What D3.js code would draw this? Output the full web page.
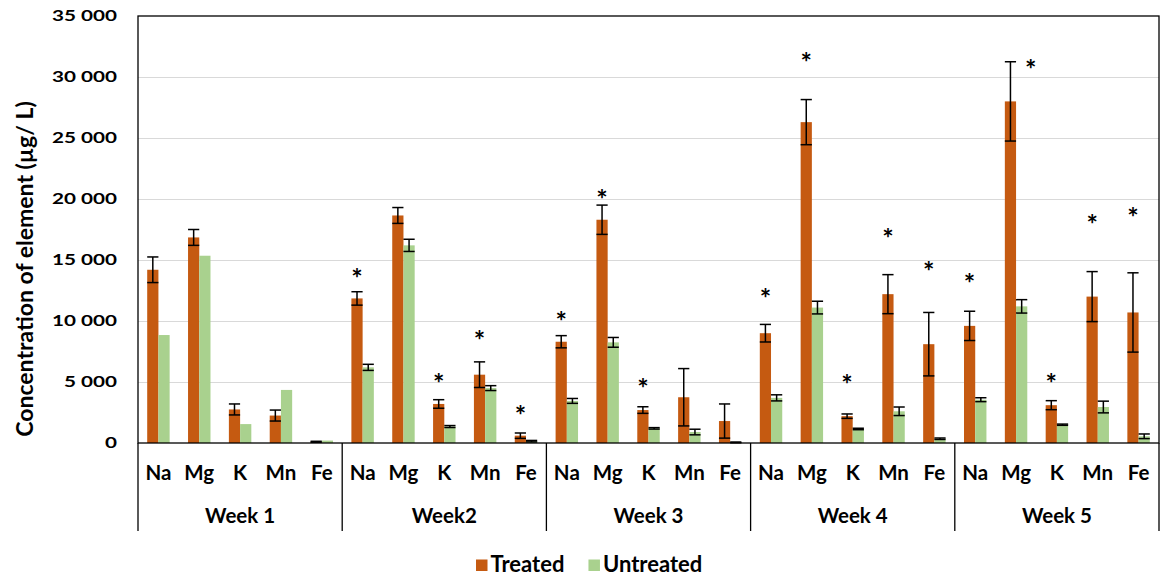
<!DOCTYPE html>
<html>
<head>
<meta charset="utf-8">
<script src="https://cdn.jsdelivr.net/npm/d3@7"></script>
<style>
  body { margin: 0; background: #fff; }
  text { font-family: Lato, "Open Sans", sans-serif; font-weight: 700; fill: #000; }
</style>
</head>
<body>
<div id="chart"></div>
<script>
// Data
const weeks = ["Week 1", "Week2", "Week 3", "Week 4", "Week 5"];
const elements = ["Na", "Mg", "K", "Mn", "Fe"];
const series = ["Treated", "Untreated"];
const yTicks = [0, 5000, 10000, 15000, 20000, 25000, 30000, 35000];

// rows = weeks, columns = elements
const treated = [
  [14200, 16850, 2750, 2250, 100],
  [11850, 18650, 3200, 5600, 600],
  [8300, 18300, 2700, 3750, 1800],
  [9000, 26300, 2200, 12200, 8100],
  [9600, 28000, 3100, 12000, 10700]
];
const treatedErr = [
  [1050, 650, 450, 450, 40],
  [550, 650, 350, 1050, 220],
  [500, 1200, 270, 2350, 1400],
  [720, 1850, 180, 1600, 2600],
  [1200, 3250, 370, 2050, 3250]
];
const untreated = [
  [8850, 15350, 1550, 4350, 200],
  [6200, 16200, 1350, 4500, 150],
  [3450, 8250, 1200, 900, 50],
  [3700, 11100, 1150, 2600, 350],
  [3550, 11200, 1500, 2950, 550]
];
const untreatedErr = [
  [0, 0, 0, 0, 0],
  [250, 500, 80, 200, 60],
  [200, 400, 60, 230, 30],
  [250, 520, 60, 350, 60],
  [160, 550, 50, 480, 190]
];
// significance markers (week, element, height of the asterisk)
const stars = [
  ["Week2", "Na", 14100], ["Week2", "K", 5490], ["Week2", "Mn", 9020], ["Week2", "Fe", 2870],
  ["Week 3", "Na", 10570], ["Week 3", "Mg", 20570], ["Week 3", "K", 5020],
  ["Week 4", "Na", 12460], ["Week 4", "Mg", 31750], ["Week 4", "K", 5410], ["Week 4", "Mn", 17380], ["Week 4", "Fe", 14650],
  ["Week 5", "Na", 13690], ["Week 5", "Mg", 31200], ["Week 5", "K", 5430], ["Week 5", "Mn", 18470], ["Week 5", "Fe", 19070]
];

const colors = { Treated: "#C55A11", Untreated: "#A9D18E" };

// Layout
const width = 1165, height = 579;
const margin = { top: 16, left: 138 };
const plotW = 1159 - 138, plotH = 443 - 16;

const svg = d3.select("#chart").append("svg")
    .attr("width", width)
    .attr("height", height);

const g = svg.append("g")
    .attr("transform", `translate(${margin.left},${margin.top})`);

// Scales
const x0 = d3.scaleBand().domain(weeks).range([0, plotW]);
const x1 = d3.scaleBand().domain(elements).range([0, x0.bandwidth()]);
const x2 = d3.scaleBand().domain(series).range([0, x1.bandwidth()]).paddingOuter(0.82);
const y = d3.scaleLinear().domain([0, 35000]).range([plotH, 0]);

const fmt = d3.formatLocale({ decimal: ".", thousands: " ", grouping: [3], currency: ["", ""] }).format(",");

// Y axis with gridlines
const yAxis = g.append("g")
    .call(d3.axisLeft(y).tickValues(yTicks).tickSize(-plotW).tickPadding(21).tickFormat(fmt))
    .call(a => a.select(".domain").remove());
yAxis.selectAll(".tick line")
    .attr("stroke", d => (d === 0 || d === 35000) ? "none" : "#D9D9D9")
    .attr("stroke-width", 1.2);
yAxis.selectAll(".tick text")
    .attr("x", 0)
    .attr("transform", "translate(-21,0) scale(1.38,1)")
    .style("font-size", "15px")
    .style("font-family", "Lato");

// Build rows
const rows = [];
weeks.forEach((w, i) => {
  elements.forEach((e, j) => {
    rows.push({ week: w, el: e, s: "Treated", v: treated[i][j], err: treatedErr[i][j] });
    rows.push({ week: w, el: e, s: "Untreated", v: untreated[i][j], err: untreatedErr[i][j] });
  });
});
const bx = d => x0(d.week) + x1(d.el) + x2(d.s);

// Bars
g.append("g").selectAll("rect")
    .data(rows)
    .join("rect")
    .attr("x", bx)
    .attr("y", d => y(d.v))
    .attr("width", x2.bandwidth())
    .attr("height", d => plotH - y(d.v))
    .attr("fill", d => colors[d.s]);

// Error bars
const eb = g.append("g").attr("stroke", "#000").attr("stroke-width", 1.5)
    .selectAll("g")
    .data(rows.filter(d => d.err > 0))
    .join("g");
eb.append("line")
    .attr("x1", d => bx(d) + x2.bandwidth() / 2)
    .attr("x2", d => bx(d) + x2.bandwidth() / 2)
    .attr("y1", d => y(d.v + d.err))
    .attr("y2", d => y(Math.max(0, d.v - d.err)));
eb.append("line")
    .attr("x1", d => bx(d))
    .attr("x2", d => bx(d) + x2.bandwidth())
    .attr("y1", d => y(d.v + d.err))
    .attr("y2", d => y(d.v + d.err));
eb.append("line")
    .attr("x1", d => bx(d))
    .attr("x2", d => bx(d) + x2.bandwidth())
    .attr("y1", d => y(Math.max(0, d.v - d.err)))
    .attr("y2", d => y(Math.max(0, d.v - d.err)));

// Asterisks above the treated bar (moved aside when they would sit on the error bar)
g.append("g").selectAll("text")
    .data(stars)
    .join("text")
    .attr("x", d => {
      const i = weeks.indexOf(d[0]), j = elements.indexOf(d[1]);
      const cx = x0(d[0]) + x1(d[1]) + x2("Treated") + x2.bandwidth() / 2;
      return d[2] <= treated[i][j] + treatedErr[i][j] ? cx + x2.bandwidth() * 1.8 : cx;
    })
    .attr("y", d => y(d[2]))
    .attr("dy", "0.62em")
    .attr("text-anchor", "middle")
    .style("font-size", "27px")
    .text("*");

// Plot frame
g.append("rect")
    .attr("width", plotW)
    .attr("height", plotH)
    .attr("fill", "none")
    .attr("stroke", "#000")
    .attr("stroke-width", 1.3);

// Week separators below the axis
g.append("g").selectAll("line")
    .data(weeks.map(w => x0(w)).concat([plotW]))
    .join("line")
    .attr("x1", d => d).attr("x2", d => d)
    .attr("y1", plotH).attr("y2", plotH + 88)
    .attr("stroke", "#000")
    .attr("stroke-width", 1.3);

// Element labels, one axis per week
weeks.forEach(w => {
  g.append("g")
      .attr("transform", `translate(${x0(w)},${plotH})`)
      .call(d3.axisBottom(x1).tickSize(0).tickPadding(22))
      .call(a => a.select(".domain").remove())
      .selectAll("text")
      .style("font-size", "20.5px")
      .style("font-family", "Lato");
});

// Week labels
g.append("g")
    .attr("transform", `translate(0,${plotH})`)
    .call(d3.axisBottom(x0).tickSize(0).tickPadding(65))
    .call(a => a.select(".domain").remove())
    .selectAll("text")
    .style("font-size", "20.5px")
    .style("font-family", "Lato");

// Y axis title
svg.append("text")
    .attr("transform", "translate(33,269) rotate(-90)")
    .attr("text-anchor", "middle")
    .style("font-size", "23px")
    .text("Concentration of element (µg/ L)");

// Legend
const legend = svg.append("g").attr("transform", "translate(0,572)");
let lx = 476;
series.forEach(s => {
  legend.append("rect")
      .attr("x", lx).attr("y", -12.5)
      .attr("width", 11.5).attr("height", 11.5)
      .attr("fill", colors[s]);
  const t = legend.append("text")
      .attr("x", lx + 14.5)
      .style("font-size", "22px")
      .text(s);
  lx += 14.5 + t.node().getComputedTextLength() + 24;
});
</script>
</body>
</html>
